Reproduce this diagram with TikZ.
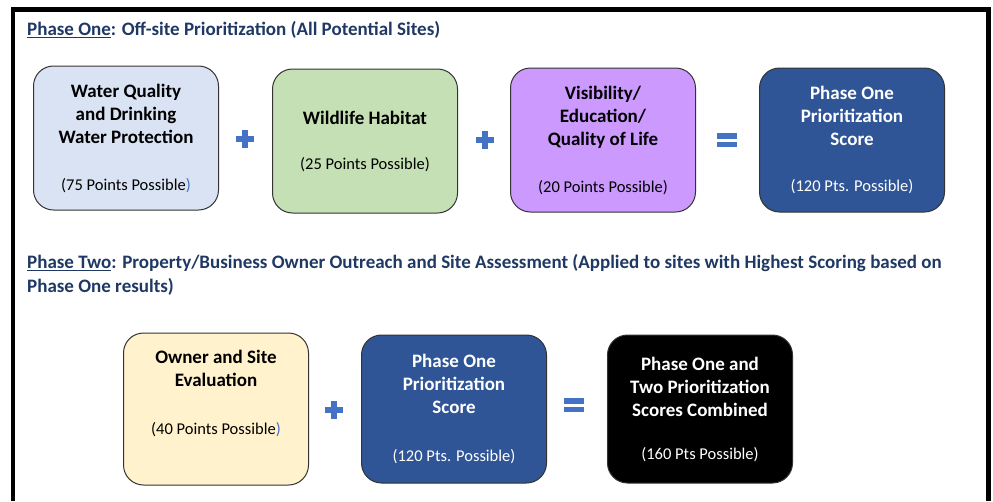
\documentclass[tikz,border=0pt]{standalone}
\usepackage{fontspec}
\setmainfont{Carlito}
\usepackage{tikz}
\usetikzlibrary{positioning}
\definecolor{titleblue}{HTML}{1F3864}
\definecolor{waterblue}{HTML}{DAE3F3}
\definecolor{habitatgreen}{HTML}{C5E0B4}
\definecolor{lifepurple}{HTML}{CC99FF}
\definecolor{scoreblue}{HTML}{2F5597}
\definecolor{ownercream}{HTML}{FFF2CC}
\definecolor{signblue}{HTML}{4472C4}
\newcommand{\possible}{\mdseries\fontsize{16.5}{23}\selectfont}

\begin{document}
\begin{tikzpicture}[x=1pt, y=-1pt,
    scorebox/.style={draw=black!80, line width=1, rounded corners=20, inner sep=0,
        align=center, minimum width=185, minimum height=144,
        font=\bfseries\fontsize{19}{23}\selectfont},
    phasetitle/.style={anchor=north west, inner sep=0, align=left, text=titleblue,
        font=\bfseries\fontsize{19}{24}\selectfont},
    plussign/.pic={\fill[signblue] (-9,-3) rectangle (9,3); \fill[signblue] (-3,-9) rectangle (3,9);},
    equalsign/.pic={\fill[signblue] (-10,-7) rectangle (10,-1.5); \fill[signblue] (-10,1.5) rectangle (10,7);}]
    \useasboundingbox (0,0) rectangle (993,501);
    \draw[line width=4.5] (13,501) -- (13,9.5) -- (988.5,9.5) -- (988.5,501);

    \node[phasetitle] (titleone) at (27,21.5) {\underline{Phase One}: Off-site Prioritization (All Potential Sites)};

    \node[scorebox, fill=waterblue] (water) at (126,138)
        {Water Quality\\and Drinking\\Water Protection\\[24]\possible (75 Points Possible{\color{signblue})}};
    \pic at (245,139) {plussign};
    \node[scorebox, fill=habitatgreen] (habitat) at (365,141)
        {Wildlife Habitat\\[22]\possible (25 Points Possible)};
    \pic at (485,140) {plussign};
    \node[scorebox, fill=lifepurple] (life) at (603,140)
        {Visibility/\\Education/\\Quality of Life\\[24]\possible (20 Points Possible)};
    \pic at (727,140) {equalsign};
    \node[scorebox, fill=scoreblue, text=white] (phaseone) at (852,140)
        {Phase One\\Prioritization\\Score\\[23]\possible (120 Pts. Possible)};

    \node[phasetitle] (titletwo) at (27,254) {\underline{Phase Two}: Property/Business Owner Outreach and Site Assessment (Applied to sites with Highest Scoring based on\\Phase One results)};

    \node[scorebox, fill=ownercream, minimum height=152] (owner) at (216,409)
        {Owner and Site\\Evaluation\\[25]\possible (40 Points Possible{\color{signblue})}\\[10]~};
    \pic at (334,410) {plussign};
    \node[scorebox, fill=scoreblue, text=white, minimum height=148] (phaseonetoo) at (454,409)
        {Phase One\\Prioritization\\Score\\[25]\possible (120 Pts. Possible)};
    \pic at (574,405) {equalsign};
    \node[scorebox, fill=black, text=white, minimum height=148] (combined) at (700,409)
        {Phase One and\\Two Prioritization\\Scores Combined\\[20]\possible (160 Pts Possible)};
\end{tikzpicture}
\end{document}
